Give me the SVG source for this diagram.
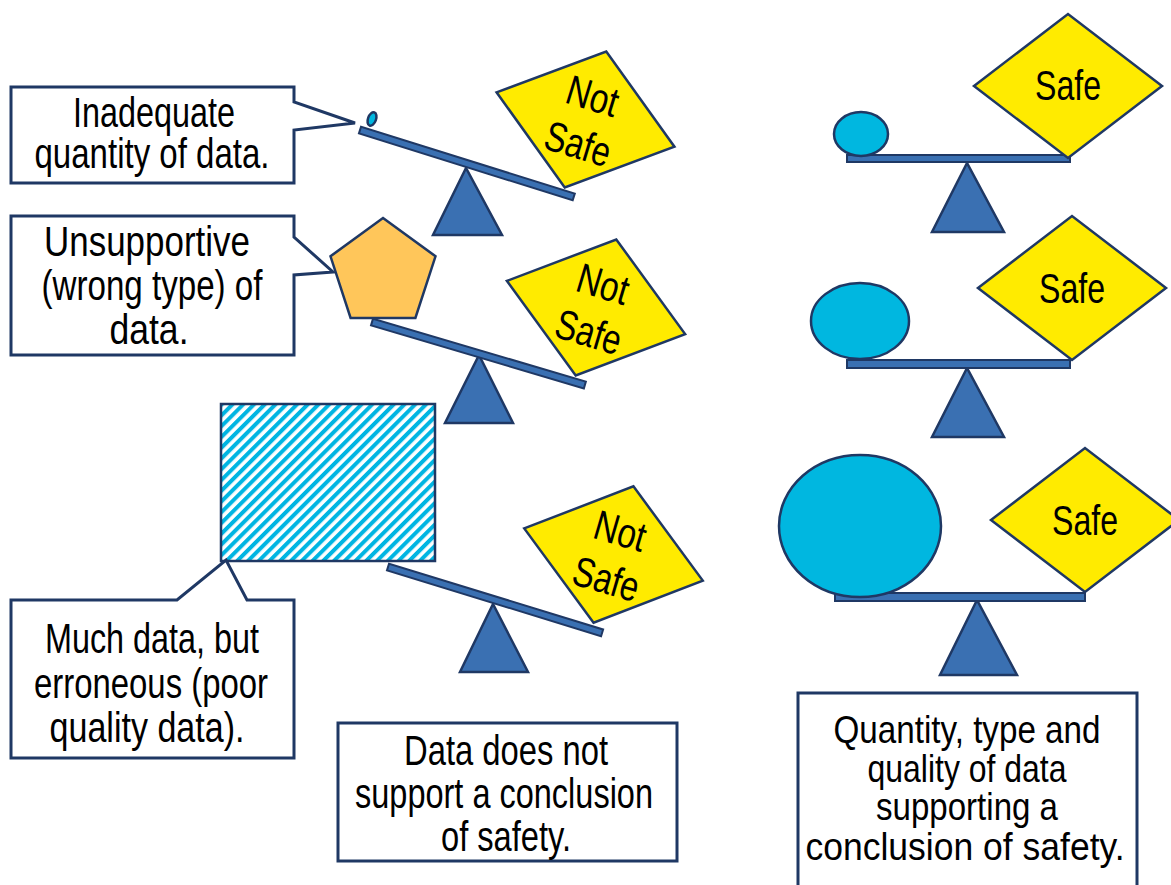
<svg xmlns="http://www.w3.org/2000/svg" width="1171" height="885" viewBox="0 0 1171 885">
<style>
.box{fill:#fff;stroke:#1F3864;stroke-width:3;stroke-linejoin:miter}
.tri{fill:#3A70B2;stroke:#1F3864;stroke-width:2.5;stroke-linejoin:miter}
.beam{fill:#3A70B2;stroke:#1F3864;stroke-width:2}
.dia{fill:#FFEB00;stroke:#1F3864;stroke-width:2.5}
.ball{fill:#00B7E0;stroke:#1F3864;stroke-width:2.5}
.pent{fill:#FFC65A;stroke:#1F3864;stroke-width:2.5}
.t{font-family:"Liberation Sans Narrow","Liberation Sans",Arial,sans-serif;font-size:42px;text-anchor:middle;fill:#000}
.s{font-size:39px}
</style>
<defs>
<pattern id="hatch" width="7.6" height="7.6" patternUnits="userSpaceOnUse" patternTransform="rotate(45)">
<rect width="7.6" height="7.6" fill="#fff"/>
<rect width="4" height="7.6" fill="#00B5E2"/>
</pattern>
</defs>
<rect width="1171" height="885" fill="#fff"/>

<!-- Left column: scale 1 -->
<g id="scale-left-1">
<polygon class="tri" points="466,168 433,235 502,235"/>
<g transform="translate(360,130) rotate(17.4)"><rect class="beam" x="0" y="-3.5" width="224" height="7"/></g>
<ellipse class="ball" cx="372" cy="119" rx="4" ry="7" transform="rotate(20 372 119)" stroke-width="1.5"/>
</g>
<g id="notsafe-1" transform="translate(585.5,119.5) rotate(17)">
<polygon class="dia" points="-93,0 0,-71 93,0 0,71"/>
<text class="t" x="0" y="-10" textLength="52" lengthAdjust="spacingAndGlyphs">Not</text>
<text class="t" x="0" y="40" textLength="67" lengthAdjust="spacingAndGlyphs">Safe</text>
</g>
<g id="callout-1">
<path class="box" d="M11,87 H294 V102 L355,123 L294,130 V183 H11 Z"/>
<text class="t" x="154" y="127" textLength="162" lengthAdjust="spacingAndGlyphs">Inadequate</text>
<text class="t" x="152" y="168" textLength="235" lengthAdjust="spacingAndGlyphs">quantity of data.</text>
</g>

<!-- Left column: scale 2 -->
<g id="scale-left-2">
<polygon class="tri" points="479,355 445,423 513,423"/>
<g transform="translate(372,322) rotate(16.5)"><rect class="beam" x="0" y="-3.5" width="222" height="7"/></g>
<polygon class="pent" points="383,218 435.5,256.3 415.4,318 350.6,318 330.5,256.3"/>
</g>
<g id="notsafe-2" transform="translate(596,307.5) rotate(16.6)">
<polygon class="dia" points="-93,0 0,-71 93,0 0,71"/>
<text class="t" x="0" y="-10" textLength="52" lengthAdjust="spacingAndGlyphs">Not</text>
<text class="t" x="0" y="40" textLength="67" lengthAdjust="spacingAndGlyphs">Safe</text>
</g>
<g id="callout-2">
<path class="box" d="M11,216 H294 V237 L333,272 L294,275 V355 H11 Z"/>
<text class="t" x="147" y="256" textLength="206" lengthAdjust="spacingAndGlyphs">Unsupportive</text>
<text class="t" x="152" y="300" textLength="221" lengthAdjust="spacingAndGlyphs">(wrong type) of</text>
<text class="t" x="149" y="344" textLength="79" lengthAdjust="spacingAndGlyphs">data.</text>
</g>

<!-- Left column: scale 3 -->
<g id="scale-left-3">
<polygon class="tri" points="493,604 460,672 528,672"/>
<g transform="translate(388,567) rotate(17.1)"><rect class="beam" x="0" y="-3.5" width="224" height="7"/></g>
<rect x="221" y="404" width="214" height="157" fill="url(#hatch)" stroke="#1F3864" stroke-width="2.5"/>
</g>
<g id="notsafe-3" transform="translate(613.5,554.5) rotate(16.3)">
<polygon class="dia" points="-93,0 0,-71 93,0 0,71"/>
<text class="t" x="0" y="-10" textLength="52" lengthAdjust="spacingAndGlyphs">Not</text>
<text class="t" x="0" y="40" textLength="67" lengthAdjust="spacingAndGlyphs">Safe</text>
</g>
<g id="callout-3">
<path class="box" d="M11,600 H177 L226,560 L247,600 H294 V758 H11 Z"/>
<text class="t" x="152" y="653" textLength="214" lengthAdjust="spacingAndGlyphs">Much data, but</text>
<text class="t" x="151" y="698" textLength="234" lengthAdjust="spacingAndGlyphs">erroneous (poor</text>
<text class="t" x="147" y="742" textLength="195" lengthAdjust="spacingAndGlyphs">quality data).</text>
</g>

<g id="summary-left">
<rect class="box" x="338" y="723" width="339" height="138"/>
<text class="t" x="506" y="765" textLength="204" lengthAdjust="spacingAndGlyphs">Data does not</text>
<text class="t" x="504" y="808" textLength="298" lengthAdjust="spacingAndGlyphs">support a conclusion</text>
<text class="t" x="506" y="851" textLength="130" lengthAdjust="spacingAndGlyphs">of safety.</text>
</g>

<!-- Right column -->
<g id="scale-right-1">
<polygon class="tri" points="967,163 932,232 1004,232"/>
<rect class="beam" x="847" y="155" width="223" height="7"/>
<ellipse class="ball" cx="861" cy="134" rx="27" ry="22"/>
</g>
<g id="safe-1" transform="translate(1068,86)">
<polygon class="dia" points="-94,0 0,-72 94,0 0,72"/>
<text class="t" x="0" y="14" textLength="66" lengthAdjust="spacingAndGlyphs">Safe</text>
</g>

<g id="scale-right-2">
<polygon class="tri" points="967,368 932,437 1004,437"/>
<rect class="beam" x="847" y="360" width="223" height="8"/>
<ellipse class="ball" cx="860" cy="321" rx="49" ry="38"/>
</g>
<g id="safe-2" transform="translate(1072,288)">
<polygon class="dia" points="-94,0 0,-72 94,0 0,72"/>
<text class="t" x="0" y="15" textLength="66" lengthAdjust="spacingAndGlyphs">Safe</text>
</g>

<g id="scale-right-3">
<polygon class="tri" points="977,600 940,675 1017,675"/>
<rect class="beam" x="835" y="593" width="250" height="8"/>
<ellipse class="ball" cx="860" cy="526" rx="81" ry="71"/>
</g>
<g id="safe-3" transform="translate(1085,520)">
<polygon class="dia" points="-94,0 0,-72 94,0 0,72"/>
<text class="t" x="0" y="15" textLength="66" lengthAdjust="spacingAndGlyphs">Safe</text>
</g>

<g id="summary-right">
<rect class="box" x="798" y="693" width="339" height="210"/>
<text class="t s" x="967" y="743" textLength="267" lengthAdjust="spacingAndGlyphs">Quantity, type and</text>
<text class="t s" x="967" y="782" textLength="199" lengthAdjust="spacingAndGlyphs">quality of data</text>
<text class="t s" x="967" y="820" textLength="182" lengthAdjust="spacingAndGlyphs">supporting a</text>
<text class="t s" x="965" y="860" textLength="319" lengthAdjust="spacingAndGlyphs">conclusion of safety.</text>
</g>
</svg>
